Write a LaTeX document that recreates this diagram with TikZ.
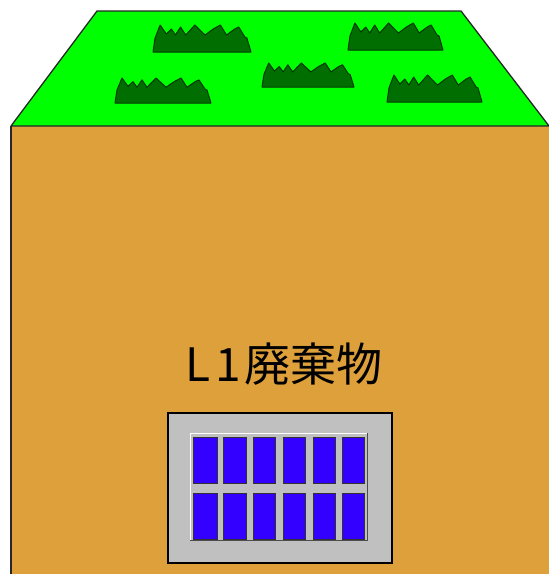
\documentclass[tikz,border=0pt]{standalone}
\usepackage{fontspec}
\newfontfamily\jpfont{Noto Sans CJK JP}
\definecolor{lawn}{RGB}{0,255,0}
\definecolor{tuft}{RGB}{0,110,0}
\definecolor{tuftedge}{RGB}{0,55,0}
\definecolor{soil}{RGB}{222,160,58}
\definecolor{vault}{RGB}{192,192,192}
\definecolor{drum}{RGB}{51,0,255}
\tikzset{
  edge/.style={draw=black!85, line width=1.3pt, line join=round},
  grass/.style={fill=tuft, draw=tuftedge, line width=1pt, line join=round},
  cell/.style={fill=drum, draw=black!80, line width=0.8pt},
  pics/tuft/.style={code={
    \path[grass] (0,0) -- (2,-14) -- (7,-27) -- (13,-18) -- (18,-23) -- (22,-17)
      -- (27,-25) -- (32,-17) -- (41,-27) -- (51,-17) -- (59,-23) -- (66,-27)
      -- (72,-17) -- (80,-23) -- (84,-25) -- (90,-15) -- (92,-14) -- (96,0) -- cycle;
  }}
}
\begin{document}
\begin{tikzpicture}[x=1pt,y=-1pt]
\useasboundingbox (0,0) rectangle (549,574);
% soil block
\path[fill=soil] (11,126) rectangle (549,574);
\draw[edge] (11,574) -- (11,126);
% grass surface
\path[edge, fill=lawn] (11,126) -- (97,11) -- (461,11) -- (549,126) -- cycle;
% grass tufts
\pic[xscale=98/96] at (153,52) {tuft};
\pic[yscale=25/27] at (115,103) {tuft};
\pic[xscale=95/96] at (348,50) {tuft};
\pic[xscale=92/96, yscale=24/27] at (262,87) {tuft};
\pic[xscale=95/96] at (387,102) {tuft};
% label
\node[font=\jpfont\fontsize{46}{46}\selectfont, inner sep=0pt] (label) at (284,364) {L\kern5pt 1\kern3pt 廃棄物};
% disposal vault
\path[fill=vault, draw=black, line width=2.5pt] (168,413) rectangle (392,563);
\draw[white, line width=1pt] (190,540) -- (190,433) -- (367,433);
\draw[black!70, line width=1pt] (190,540) -- (367,540) -- (367,433);
% waste packages
\foreach \xa/\xb in {193/217, 223/246, 253/275, 283/305, 313/335, 342/364}{
  \path[cell] (\xa,437) rectangle (\xb,483);
  \path[cell] (\xa,493) rectangle (\xb,539);
}
\end{tikzpicture}
\end{document}
